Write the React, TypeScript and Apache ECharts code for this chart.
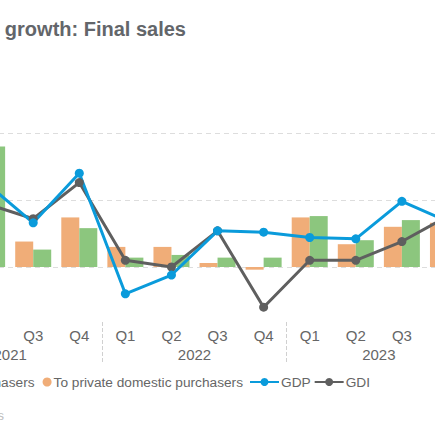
import React, { useEffect, useRef } from "react";
import * as echarts from "echarts";

const quarters = ["Q1", "Q2", "Q3", "Q4", "Q1", "Q2", "Q3", "Q4", "Q1", "Q2", "Q3", "Q4"];
const years = ["2021", "2022", "2023"];
const domestic = [7.4, 9.0, 1.3, 2.9, 0.7, 0.9, 0.7, 0.7, 3.8, 2.0, 3.5, 3.5];
const privateDomestic = [8.6, 10.2, 1.9, 3.7, 1.5, 1.5, 0.3, -0.2, 3.7, 1.7, 3.0, 3.3];
const gdp = [5.2, 6.2, 3.3, 7.0, -2.0, -0.6, 2.7, 2.6, 2.2, 2.1, 4.9, 3.4];
const gdi = [3.4, 4.7, 3.6, 6.3, 0.5, 0.0, 2.7, -3.0, 0.5, 0.5, 1.9, 3.8];

const FONT = "'Liberation Sans', Arial, sans-serif";
const GREEN = "#8cc67e";
const ORANGE = "#f0ad78";
const BLUE = "#0a9bdb";
const GRAY = "#5f5f5f";

// The visible 435x435 window is a crop of a wider chart canvas.
const SHIFT = 150;
const CANVAS_W = 700;

export default function App() {
  const ref = useRef<HTMLDivElement>(null);
  useEffect(() => {
    if (!ref.current) return;
    const chart = echarts.init(ref.current, undefined, { renderer: "svg" });
    chart.setOption({
      animation: false,
      textStyle: { fontFamily: FONT },
      grid: { left: SHIFT - 82, right: CANVAS_W - (SHIFT + 471), top: 133, bottom: 101, containLabel: false },
      graphic: [
        {
          type: "text",
          x: SHIFT + 186,
          y: 29,
          style: {
            text: "Real GDP growth: Final sales",
            fontFamily: FONT,
            fontSize: 20,
            fontWeight: "bold",
            fill: "#63666a",
            align: "right",
            verticalAlign: "middle",
          },
        },
        {
          type: "text",
          x: SHIFT + 4,
          y: 415,
          style: {
            text: "Source: Bureau of Economic Analysis",
            fontFamily: FONT,
            fontSize: 13,
            fill: "#bdbdbd",
            align: "right",
            verticalAlign: "middle",
          },
        },
      ],
      legend: [
        {
          data: [
            { name: "To domestic purchasers", icon: "circle" },
            { name: "To private domestic purchasers", icon: "circle" },
          ],
          right: CANVAS_W - (SHIFT + 243),
          top: 375,
          padding: 0,
          itemWidth: 9,
          itemHeight: 9,
          itemGap: 8,
          textStyle: { fontFamily: FONT, fontSize: 13.7, color: "#666", padding: [0, 0, 0, -3] },
        },
        {
          data: ["GDP", "GDI"],
          left: SHIFT + 249,
          top: 375,
          padding: 0,
          itemWidth: 29,
          itemHeight: 10,
          itemGap: 3,
          lineStyle: { width: 2 },
          textStyle: { fontFamily: FONT, fontSize: 13.7, color: "#666", padding: [0, 0, 0, -3] },
        },
      ],
      xAxis: [
        {
          type: "category",
          data: quarters,
          position: "bottom",
          offset: -12,
          axisLine: { show: false },
          axisTick: { show: false },
          axisLabel: { fontFamily: FONT, fontSize: 15, color: "#666", margin: 6 },
        },
        {
          type: "category",
          data: years,
          position: "bottom",
          offset: -12,
          axisLine: { show: false },
          axisTick: {
            show: true,
            length: 40,
            lineStyle: { color: "#d0d0d0", type: "dashed", width: 1 },
          },
          axisLabel: { fontFamily: FONT, fontSize: 15, color: "#666", margin: 25 },
        },
      ],
      yAxis: {
        type: "value",
        min: -5,
        max: 10,
        interval: 5,
        axisLabel: { show: false },
        axisLine: { show: false },
        axisTick: { show: false },
        splitLine: {
          show: true,
          showMinLine: false,
          lineStyle: { color: "#dddddd", type: [5, 4], width: 1 },
        },
      },
      series: [
        {
          name: "To private domestic purchasers",
          type: "bar",
          data: privateDomestic,
          barWidth: 18,
          barGap: "0%",
          itemStyle: { color: ORANGE },
        },
        {
          name: "To domestic purchasers",
          type: "bar",
          data: domestic,
          barWidth: 18,
          barGap: "0%",
          itemStyle: { color: GREEN },
        },
        {
          name: "GDI",
          type: "line",
          data: gdi,
          symbol: "circle",
          symbolSize: 9,
          lineStyle: { color: GRAY, width: 3 },
          itemStyle: { color: GRAY },
        },
        {
          name: "GDP",
          type: "line",
          data: gdp,
          symbol: "circle",
          symbolSize: 9,
          lineStyle: { color: BLUE, width: 3 },
          itemStyle: { color: BLUE },
        },
      ],
    });
    return () => chart.dispose();
  }, []);
  return (
    <div
      style={{
        position: "fixed",
        left: 0,
        top: 0,
        width: 435,
        height: 435,
        overflow: "hidden",
        background: "#fff",
      }}
    >
      <div
        ref={ref}
        style={{ position: "absolute", left: -SHIFT, top: 0, width: CANVAS_W, height: 435 }}
      />
    </div>
  );
}
